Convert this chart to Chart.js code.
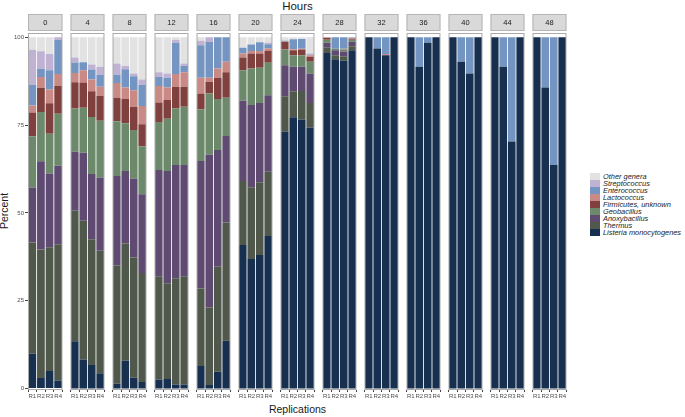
<!DOCTYPE html>
<html>
<head>
<meta charset="utf-8">
<script src="https://cdn.jsdelivr.net/npm/chart.js@4"></script>
<style>
  body { margin: 0; background: #fff; }
  #wrap { position: relative; width: 685px; height: 417px; font-family: "Liberation Sans", Arial, sans-serif; overflow: hidden; }
  #wrap canvas { position: absolute; top: 14px; }
  .title { position: absolute; color: #1a1a1a; white-space: nowrap; }
  #legend { position: absolute; left: 590px; top: 173px; }
  .row { height: 7px; position: relative; }
  .sw { position: absolute; left: 0; top: 0; width: 10px; height: 7px; }
  .lab { position: absolute; left: 13px; top: -1px; font-size: 7.4px; line-height: 9px; font-style: italic; color: #222; white-space: nowrap; }
</style>
</head>
<body>
<div id="wrap">
  <div class="title" style="left:0;width:595px;text-align:center;top:0;font-size:11.5px;">Hours</div>
  <div class="title" style="left:0;width:595px;text-align:center;top:403px;font-size:10.5px;">Replications</div>
  <div class="title" style="left:-14px;top:205px;font-size:10.5px;transform:rotate(-90deg);">Percent</div>
  <div id="legend"></div>
</div>
<script>
const hours = ['0', '4', '8', '12', '16', '20', '24', '28', '32', '36', '40', '44', '48'];
const reps = ['R1', 'R2', 'R3', 'R4'];
const yTicks = [0, 25, 50, 75, 100];

// percent per genus, one row per hour, R1..R4
const listeria = [
  [9.9, 3.0, 5.0, 2.3], [13.5, 8.3, 6.7, 4.4], [1.4, 7.9, 3.1, 1.9], [2.5, 2.7, 1.2, 1.2],
  [6.4, 1.0, 4.8, 13.6], [40.9, 36.9, 38.0, 43.4], [73.1, 77.2, 76.6, 74.3], [95.5, 93.7, 93.3, 96.3],
  [100, 96.8, 94.9, 100], [100, 91.6, 98.4, 100], [100, 93.0, 89.7, 100], [100, 91.6, 70.3, 100],
  [100, 85.7, 63.6, 100]
];
const thermus = [
  [31.7, 36.6, 35.2, 38.8], [37.1, 39.5, 35.8, 34.8], [33.6, 33.4, 34.2, 31.0], [29.5, 27.3, 30.2, 30.8],
  [22.1, 22.1, 29.9, 33.7], [18.2, 20.4, 20.7, 18.3], [10.1, 7.4, 8.1, 7.0], [1.5, 1.2, 1.3, 1.1],
  [0, 0, 0, 0], [0, 0, 0, 0], [0, 0, 0, 0], [0, 0, 0, 0], [0, 0, 0, 0]
];
const anoxybacillus = [
  [15.6, 25.1, 21.0, 22.3], [16.8, 19.3, 18.6, 20.9], [25.5, 20.6, 22.5, 22.4], [30.2, 31.9, 32.2, 31.6],
  [36.3, 43.5, 33.2, 24.6], [22.8, 23.4, 22.6, 21.8], [8.8, 7.0, 6.9, 8.4], [1.4, 1.4, 1.3, 1.3],
  [0, 0, 0, 0], [0, 0, 0, 0], [0, 0, 0, 0], [0, 0, 0, 0], [0, 0, 0, 0]
];
const geobacillus = [
  [14.6, 14.0, 11.3, 14.8], [12.3, 12.8, 16.2, 16.1], [15.6, 13.6, 13.8, 13.7], [13.7, 14.9, 16.1, 16.6],
  [14.7, 17.4, 14.5, 10.9], [8.7, 10.4, 10.0, 9.2], [4.5, 3.3, 3.3, 3.3], [0.9, 0.4, 0.6, 0.6],
  [0, 0, 0, 0], [0, 0, 0, 0], [0, 0, 0, 0], [0, 0, 0, 0], [0, 0, 0, 0]
];
const firmicutes = [
  [6.8, 6.9, 8.7, 8.0], [7.5, 7.2, 7.3, 7.1], [6.7, 6.9, 6.6, 6.2], [5.5, 5.3, 6.2, 5.7],
  [4.5, 3.3, 6.1, 7.2], [3.6, 4.3, 4.1, 3.4], [2.2, 1.4, 1.6, 1.4], [0.5, 0, 0.1, 0.2],
  [0, 0, 0, 0], [0, 0, 0, 0], [0, 0, 0, 0], [0, 0, 0, 0], [0, 0, 0, 0]
];
const lactococcus = [
  [2.0, 3.1, 3.9, 3.3], [2.6, 3.5, 3.4, 2.6], [4.2, 3.3, 4.7, 5.2], [4.7, 3.6, 3.6, 4.1],
  [4.5, 1.2, 2.6, 3.0], [1.2, 0.7, 0.7, 0.7], [0.1, 0.3, 0.2, 0.5], [0.2, 0, 0.1, 0.3],
  [0, 0, 0.3, 0], [0, 0, 0, 0], [0, 0, 0, 0], [0, 0, 0, 0], [0, 0, 0, 0]
];
const enterococcus = [
  [5.8, 2.3, 5.5, 9.7], [3.0, 2.3, 2.8, 3.4], [2.3, 5.2, 4.0, 6.0], [2.6, 2.8, 8.9, 1.8],
  [9.2, 10.2, 8.9, 7.0], [1.6, 1.8, 2.5, 1.2], [0.2, 2.8, 2.8, 0.2], [0, 3.3, 3.3, 0.1],
  [0, 3.2, 4.8, 0], [0, 8.4, 1.6, 0], [0, 7.0, 10.3, 0], [0, 8.4, 29.7, 0], [0, 14.3, 36.4, 0]
];
const streptococcus = [
  [10.0, 5.0, 4.6, 0.8], [1.4, 0, 1.4, 2.3], [3.2, 0.9, 0.8, 1.6], [1.3, 1.2, 0.9, 0.7],
  [1.3, 1.3, 0, 0], [0, 0, 0, 0.4], [0.1, 0, 0, 0.3], [0, 0, 0, 0.1],
  [0, 0, 0, 0], [0, 0, 0, 0], [0, 0, 0, 0], [0, 0, 0, 0], [0, 0, 0, 0]
];
const otherGenera = [
  [3.6, 4.0, 4.8, 0], [5.8, 7.1, 7.8, 8.4], [7.5, 8.2, 10.3, 12.0], [10.0, 10.3, 0.7, 7.5],
  [1.0, 0, 0, 0], [3.0, 2.1, 1.4, 1.6], [0.9, 0.6, 0.5, 4.6], [0, 0, 0, 0],
  [0, 0, 0, 0], [0, 0, 0, 0], [0, 0, 0, 0], [0, 0, 0, 0], [0, 0, 0, 0]
];

// bottom to top
const genera = [
  { name: 'Listeria monocytogenes', values: listeria, color: '#17304f' },
  { name: 'Thermus', values: thermus, color: '#4f584b' },
  { name: 'Anoxybacillus', values: anoxybacillus, color: '#5f4b72' },
  { name: 'Geobacillus', values: geobacillus, color: '#6c8a6b' },
  { name: 'Firmicutes, unknown', values: firmicutes, color: '#80403e' },
  { name: 'Lactococcus', values: lactococcus, color: '#c98a85' },
  { name: 'Enterococcus', values: enterococcus, color: '#7495c1' },
  { name: 'Streptococcus', values: streptococcus, color: '#bfb2d2' },
  { name: 'Other genera', values: otherGenera, color: '#e2e2e2' }
];

const PANEL_LEFT = 28, PANEL_STEP = 42, PANEL_W = 35, Y_AXIS_W = 28;

const facetPlugin = {
  id: 'facet',
  afterDatasetsDraw(chart, args, opts) {
    const { ctx, chartArea: a } = chart;
    ctx.save();
    // strip
    ctx.fillStyle = '#d9d9d9';
    ctx.fillRect(a.left, 0, a.right - a.left, 17);
    ctx.strokeStyle = '#b5b5b5';
    ctx.lineWidth = 1;
    ctx.strokeRect(a.left + 0.5, 0.5, a.right - a.left - 1, 16);
    ctx.fillStyle = '#1a1a1a';
    ctx.font = '7.5px "Liberation Sans", Arial, sans-serif';
    ctx.textAlign = 'center';
    ctx.textBaseline = 'middle';
    ctx.fillText(opts.label, (a.left + a.right) / 2, 9);
    // panel border
    ctx.strokeStyle = '#aaaaaa';
    ctx.strokeRect(a.left + 0.5, a.top + 0.5, a.right - a.left - 1, a.bottom - a.top - 1);
    ctx.restore();
  }
};

const legendBox = document.getElementById('legend');
genera.slice().reverse().forEach(g => {
  const row = document.createElement('div');
  row.className = 'row';
  row.innerHTML = '<div class="sw" style="background:' + g.color + '"></div><div class="lab">' + g.name + '</div>';
  legendBox.appendChild(row);
});

hours.forEach((h, i) => {
  const first = i === 0;
  const canvas = document.createElement('canvas');
  const w = first ? PANEL_LEFT + PANEL_W : PANEL_W;
  canvas.width = w;
  canvas.height = 391;
  canvas.style.width = w + 'px';
  canvas.style.height = '391px';
  canvas.style.left = (first ? 0 : PANEL_LEFT + PANEL_STEP * i) + 'px';
  document.getElementById('wrap').appendChild(canvas);

  new Chart(canvas.getContext('2d'), {
    type: 'bar',
    data: {
      labels: reps,
      datasets: genera.map(g => ({
        label: g.name,
        data: g.values[i],
        backgroundColor: g.color,
        borderWidth: 0,
        categoryPercentage: 1,
        barPercentage: 0.9
      }))
    },
    options: {
      responsive: false,
      animation: false,
      layout: { padding: { top: 19, left: 0, right: 0, bottom: 0 } },
      plugins: { legend: { display: false }, tooltip: { enabled: false }, facet: { label: h } },
      scales: {
        x: {
          stacked: true,
          offset: true,
          grid: { display: true, drawOnChartArea: false, tickLength: 2, color: '#444' },
          border: { display: false },
          ticks: { font: { size: 6, family: '"Liberation Sans", Arial, sans-serif' }, color: '#4d4d4d', padding: 1, maxRotation: 0, autoSkip: false },
          afterFit: s => { s.height = 15; }
        },
        y: {
          display: first,
          stacked: true,
          min: -0.4,
          max: 101.2,
          afterBuildTicks: s => { s.ticks = yTicks.map(v => ({ value: v })); },
          grid: { display: true, drawOnChartArea: false, tickLength: 3, color: '#444' },
          border: { display: false },
          ticks: { font: { size: 6, family: '"Liberation Sans", Arial, sans-serif' }, color: '#4d4d4d', padding: 1 },
          afterFit: s => { s.width = first ? Y_AXIS_W : 0; }
        }
      }
    },
    plugins: [facetPlugin]
  });
});
</script>
</body>
</html>
